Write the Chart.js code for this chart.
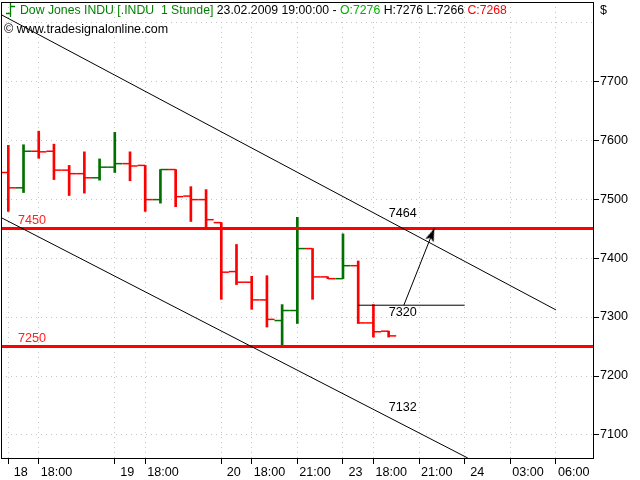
<!DOCTYPE html>
<html>
<head>
<meta charset="utf-8">
<title>Dow Jones INDU 1 Stunde</title>
<script src="https://cdn.jsdelivr.net/npm/chart.js@4.4.0/dist/chart.umd.min.js"></script>
<style>
    html, body { margin: 0; padding: 0; background: #fff; }
    #wrap { position: relative; width: 640px; height: 480px; font-family: "Liberation Sans", Arial, sans-serif; font-size: 12.5px; color: #000; }
    #chart { position: absolute; left: 0; top: 0; width: 640px; height: 480px; }
    .txt { position: absolute; white-space: pre; line-height: 14px; }
    #icon { position: absolute; left: 5px; top: 2px; }
</style>
</head>
<body>
<div id="wrap">
    <canvas id="chart" width="640" height="480"></canvas>
    <svg id="icon" width="12" height="16"><path d="M5.5 1 V15 M1 11.5 H5.5 M5.5 4.5 H10" stroke="#008000" stroke-width="1.3" fill="none"/></svg>
    <div class="txt" style="left:20px;top:3px;font-size:12.25px"><span style="color:#008000">Dow Jones INDU [.INDU  1 Stunde]</span> 23.02.2009 19:00:00 - <span style="color:#00b000">O:7276</span> H:7276 L:7266 <span style="color:#ff0000">C:7268</span></div>
    <div class="txt" style="left:4px;top:22px">© www.tradesignalonline.com</div>
    <div class="txt" style="left:600px;top:3px">$</div>
</div>
<script>
// Hourly OHLC bars (slot index = bar position on the time axis)
const opens  = [7545, 7519, 7581, 7581, 7549, 7543, 7536, 7554, 7560, 7557, 7499, 7550, 7505,
                7499, 7460, 7377, 7359, 7329, 7294, 7311, 7416, 7368, 7365, 7387, 7290, 7276];
const highs  = [7591, 7592, 7615, 7593, 7557, 7580, 7568, 7613, 7580, 7557, 7550, 7550, 7521,
                7516, 7460, 7423, 7369, 7370, 7321, 7469, 7416, 7368, 7441, 7395, 7321, 7276];
const lows   = [7479, 7511, 7569, 7533, 7506, 7510, 7532, 7545, 7531, 7479, 7493, 7487, 7462,
                7448, 7330, 7355, 7313, 7283, 7253, 7289, 7330, 7365, 7365, 7289, 7266, 7266];
const closes = [7519, 7581, 7580, 7549, 7543, 7536, 7554, 7560, 7556, 7499, 7550, 7504, 7499,
                7465, 7376, 7359, 7329, 7296, 7311, 7416, 7368, 7365, 7387, 7290, 7275, 7268];

// Axis ticks
const xTickSlots  = [0, 2, 7, 9, 14, 16, 19, 22, 24, 27, 30, 33, 36];
const xTickLabels = ['18', '18:00', '19', '18:00', '20', '18:00', '21:00', '23', '18:00', '21:00', '24', '03:00', '06:00'];
const dayLabels   = ['18', '19', '20', '23', '24'];
const yTicks      = [7100, 7200, 7300, 7400, 7500, 7600, 7700, 7800];

// Drawing tools on the chart
const supportLevels = [7450, 7250];
const upperChannel  = [{x: -0.43, y: 7812}, {x: 36, y: 7312}];
const lowerChannel  = [{x: -0.43, y: 7468}, {x: 30.2, y: 7061}];
const targetLine    = [{x: 23, y: 7320}, {x: 30, y: 7320}];
const arrowPath     = [{x: 26, y: 7320}, {x: 28, y: 7450}];
const noteTexts     = ['7450', '7250', '7464', '7320', '7132'];
const notePoints    = [{x: 0.64, y: 7464}, {x: 0.64, y: 7264}, {x: 25, y: 7476}, {x: 25, y: 7308}, {x: 25, y: 7146}];

const X_MIN = -0.48, X_MAX = 38.5;
const Y_MIN = 7061, Y_MAX = 7834;

const UP = '#007000';
const DOWN = '#ff0000';
const barColors = opens.map((o, i) => closes[i] > o ? UP : DOWN);

// open tick on the left, close tick on the right, gaps between bars
const tickPoints = [];
opens.forEach((o, i) => {
    tickPoints.push({x: i - 0.5, y: o}, {x: i, y: o}, {x: i, y: null},
                    {x: i, y: closes[i]}, {x: i + 0.5, y: closes[i]}, {x: i + 0.5, y: null});
});

function makeArrowHead() {
    const c = document.createElement('canvas');
    c.width = 10;
    c.height = 28;
    const g = c.getContext('2d');
    g.fillStyle = '#000';
    g.beginPath();
    g.moveTo(5, 14);
    g.lineTo(9.5, 27);
    g.lineTo(5, 24);
    g.lineTo(0.5, 27);
    g.closePath();
    g.fill();
    return c;
}
const arrowHead = makeArrowHead();

function arrowAngle(chart) {
    const sx = chart.scales.x, sy = chart.scales.y;
    const dx = sx.getPixelForValue(arrowPath[1].x) - sx.getPixelForValue(arrowPath[0].x);
    const dy = sy.getPixelForValue(arrowPath[1].y) - sy.getPixelForValue(arrowPath[0].y);
    return Math.atan2(dx, -dy) * 180 / Math.PI;
}

const FONT = '"Liberation Sans", Arial, sans-serif';

// frame around the plot and the text notes
const framePlugin = {
    id: 'frameAndNotes',
    afterDatasetsDraw(chart) {
        const {ctx, chartArea, scales} = chart;
        ctx.save();
        ctx.font = '12.6px ' + FONT;
        ctx.textBaseline = 'middle';
        ctx.textAlign = 'left';
        noteTexts.forEach((t, i) => {
            ctx.fillStyle = i < supportLevels.length ? '#ff2020' : '#000';
            ctx.fillText(t, scales.x.getPixelForValue(notePoints[i].x), scales.y.getPixelForValue(notePoints[i].y));
        });
        ctx.strokeStyle = '#000';
        ctx.lineWidth = 1;
        ctx.strokeRect(chartArea.left + 0.5, chartArea.top + 0.5,
                       chartArea.right - chartArea.left - 1, chartArea.bottom - chartArea.top);
        ctx.restore();
    }
};

const ctx = document.getElementById('chart').getContext('2d');
Chart.defaults.font.family = FONT;
Chart.defaults.font.size = 12.6;
Chart.defaults.color = '#000';

const hline = v => [{x: X_MIN, y: v}, {x: X_MAX, y: v}];

new Chart(ctx, {
    type: 'bar',
    data: {
        datasets: [
            {
                type: 'line',
                data: arrowPath,
                borderColor: '#000',
                borderWidth: 1,
                pointRadius: [0, 4],
                pointStyle: ['circle', arrowHead],
                pointRotation: c => arrowAngle(c.chart),
                order: 1
            },
            { type: 'line', data: targetLine, borderColor: '#000', borderWidth: 1, pointRadius: 0, order: 2 },
            { type: 'line', data: upperChannel, borderColor: '#000', borderWidth: 1, pointRadius: 0, order: 3 },
            { type: 'line', data: lowerChannel, borderColor: '#000', borderWidth: 1, pointRadius: 0, order: 4 },
            { type: 'line', data: hline(supportLevels[0]), borderColor: '#ff0000', borderWidth: 3, pointRadius: 0, order: 5 },
            { type: 'line', data: hline(supportLevels[1]), borderColor: '#ff0000', borderWidth: 3, pointRadius: 0, order: 6 },
            {
                type: 'line',
                data: tickPoints,
                borderColor: DOWN,
                borderWidth: 1.5,
                pointRadius: 0,
                spanGaps: false,
                segment: {
                    borderColor: c => barColors[Math.floor(c.p0DataIndex / 6)]
                },
                order: 7
            },
            {
                type: 'bar',
                data: opens.map((o, i) => ({x: i, y: [lows[i], highs[i]]})),
                backgroundColor: barColors,
                borderWidth: 0,
                barThickness: 2,
                order: 8
            }
        ]
    },
    options: {
        responsive: false,
        devicePixelRatio: 1,
        animation: false,
        events: [],
        layout: { autoPadding: false, padding: { left: 1, top: 2, right: 0, bottom: 0 } },
        plugins: {
            legend: { display: false },
            tooltip: { enabled: false }
        },
        scales: {
            x: {
                type: 'linear',
                position: 'bottom',
                min: X_MIN,
                max: X_MAX,
                offset: false,
                afterBuildTicks: s => { s.ticks = xTickSlots.map(v => ({value: v})); },
                afterFit: s => { s.height = 22; s.paddingLeft = 0; s.paddingRight = 0; },
                grid: {
                    offset: false,
                    color: '#c4c4c4',
                    lineWidth: 1,
                    tickLength: 6,
                    tickColor: '#000'
                },
                border: { display: false, dash: [1, 4] },
                ticks: {
                    autoSkip: false,
                    maxRotation: 0,
                    align: 'start',
                    labelOffset: 2,
                    padding: 1,
                    color: '#000',
                    callback: (v, i) => dayLabels.includes(xTickLabels[i]) ? ' ' + xTickLabels[i] : xTickLabels[i]
                }
            },
            y: {
                type: 'linear',
                position: 'right',
                min: Y_MIN,
                max: Y_MAX,
                afterBuildTicks: s => { s.ticks = yTicks.map(v => ({value: v})); },
                afterFit: s => { s.width = 46; s.paddingTop = 0; s.paddingBottom = 0; },
                grid: {
                    color: '#c4c4c4',
                    lineWidth: 1,
                    tickLength: 5,
                    tickColor: c => (c.tick && c.tick.value === 7800) ? 'rgba(0,0,0,0)' : '#000'
                },
                border: { display: false, dash: [1, 4] },
                ticks: {
                    padding: 1,
                    color: '#000',
                    callback: v => v === 7800 ? '' : String(v)
                }
            }
        }
    },
    plugins: [framePlugin]
});
</script>
</body>
</html>
